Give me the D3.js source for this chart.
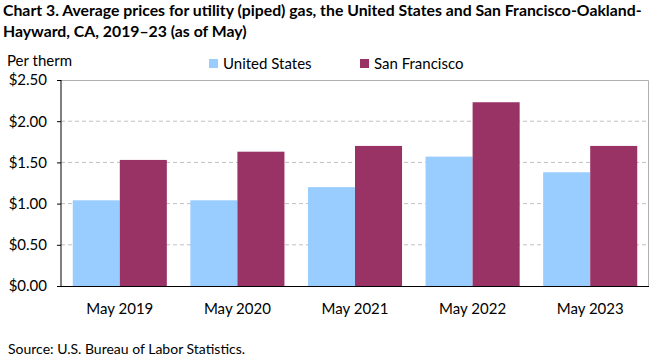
<!DOCTYPE html>
<html>
<head>
<meta charset="utf-8">
<script src="https://cdn.jsdelivr.net/npm/d3@7"></script>
<style>
  body { margin: 0; background: #fff; }
  text { font-family: Lato, "Open Sans", sans-serif; fill: #000; }
</style>
</head>
<body>
<div id="chart"></div>
<script>
var categories = ["May 2019", "May 2020", "May 2021", "May 2022", "May 2023"];
var seriesNames = ["United States", "San Francisco"];
var usValues = [1.04, 1.04, 1.20, 1.57, 1.38];
var sfValues = [1.53, 1.63, 1.70, 2.23, 1.70];
var yTicks = [0, 0.5, 1, 1.5, 2, 2.5];
var colors = ["#99ccff", "#993366"];

var width = 661, height = 361;
var margin = { left: 61, right: 12, top: 80, bottom: 75 };

var svg = d3.select("#chart").append("svg")
  .attr("width", width)
  .attr("height", height);

// title
var title = svg.append("text")
  .attr("x", 3)
  .attr("y", 16)
  .style("font-size", "15.8px")
  .style("font-weight", "bold");
title.append("tspan").attr("x", 3).text("Chart 3. Average prices for utility (piped) gas, the United States and San Francisco-Oakland-");
title.append("tspan").attr("x", 3).attr("dy", 21).text("Hayward, CA, 2019\u201323 (as of May)");

svg.append("text")
  .attr("x", 7)
  .attr("y", 66)
  .style("font-size", "15px")
  .text("Per therm");

var x0 = d3.scaleBand()
  .domain(categories)
  .range([margin.left, width - margin.right])
  .paddingInner(0.2)
  .paddingOuter(0.1);

var x1 = d3.scaleBand()
  .domain(seriesNames)
  .range([0, x0.bandwidth()]);

var y = d3.scaleLinear()
  .domain([0, 2.5])
  .range([height - margin.bottom, margin.top]);

// grid
svg.append("g")
  .selectAll("line")
  .data(yTicks.filter(function (d) { return d > 0 && d < 2.5; }))
  .enter().append("line")
  .attr("x1", margin.left)
  .attr("x2", width - margin.right)
  .attr("y1", function (d) { return y(d); })
  .attr("y2", function (d) { return y(d); })
  .style("stroke", "#c0c0c0")
  .style("stroke-dasharray", "4,3");

// frame top/right
svg.append("path")
  .attr("d", "M" + margin.left + "," + (margin.top + 0.5) + "H" + (width - margin.right - 0.5) + "V" + (height - margin.bottom))
  .style("fill", "none")
  .style("stroke", "#b0b0b0");

var data = categories.map(function (c, i) {
  return { cat: c, vals: [usValues[i], sfValues[i]] };
});

var groups = svg.append("g")
  .selectAll("g")
  .data(data)
  .enter().append("g")
  .attr("transform", function (d) { return "translate(" + x0(d.cat) + ",0)"; });

groups.selectAll("rect")
  .data(function (d) { return d.vals.map(function (v, i) { return { name: seriesNames[i], v: v, i: i }; }); })
  .enter().append("rect")
  .attr("x", function (d) { return x1(d.name); })
  .attr("width", x1.bandwidth())
  .attr("y", function (d) { return y(d.v); })
  .attr("height", function (d) { return y(0) - y(d.v); })
  .style("fill", function (d) { return colors[d.i]; });

// y axis
var yAxis = svg.append("g")
  .attr("transform", "translate(" + margin.left + ",0)")
  .call(d3.axisLeft(y).tickValues(yTicks).tickSize(4).tickFormat(function (d) { return "$" + d.toFixed(2); }));
yAxis.select(".domain").attr("d", "M0," + y(2.5) + "V" + y(0)).style("stroke", "#000");
yAxis.selectAll("text").style("font-size", "15px").attr("x", -14);

// x axis
var xAxis = svg.append("g")
  .attr("transform", "translate(0," + y(0) + ")")
  .call(d3.axisBottom(x0).tickSize(0).tickSizeOuter(0));
xAxis.select(".domain").attr("d", "M" + (margin.left - 4) + ",0.5H" + (width - margin.right)).style("stroke", "#000");
xAxis.selectAll("text").style("font-size", "15px").attr("y", 17);
xAxis.selectAll("text").attr("dy", "0.71em");

// legend
var legend = svg.append("g")
  .selectAll("g")
  .data(seriesNames)
  .enter().append("g")
  .attr("transform", function (d, i) { return "translate(" + (209 + i * 151) + ",59)"; });
legend.append("rect")
  .attr("width", 9).attr("height", 9)
  .style("fill", function (d, i) { return colors[i]; });
legend.append("text")
  .attr("x", 14).attr("y", 10)
  .style("font-size", "15px")
  .text(function (d) { return d; });

svg.append("text")
  .attr("x", 8)
  .attr("y", 354)
  .style("font-size", "14px")
  .text("Source: U.S. Bureau of Labor Statistics.");
</script>
</body>
</html>
